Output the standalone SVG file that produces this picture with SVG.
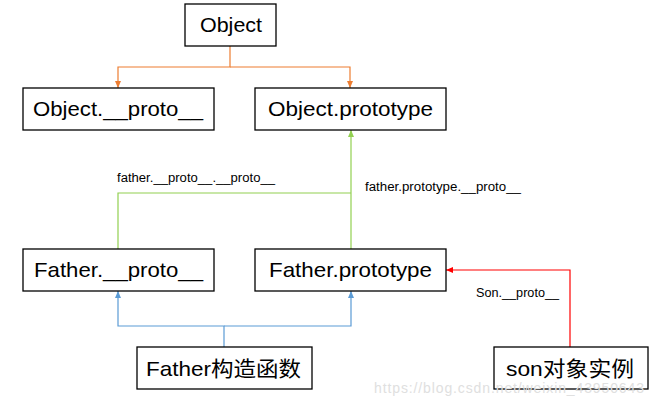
<svg xmlns="http://www.w3.org/2000/svg" width="655" height="407" viewBox="0 0 655 407">
<style>
.box{fill:#fff;stroke:#000;stroke-width:1.3}
.t{font-family:"Liberation Sans","Noto Sans CJK SC",sans-serif;font-size:21px;fill:#000}
.s{font-family:"Liberation Sans",sans-serif;font-size:12.5px;fill:#000}
.c{fill:none;stroke-width:1.2}
</style>
<defs>
<marker id="ao" markerUnits="userSpaceOnUse" markerWidth="8" markerHeight="8" refX="7" refY="4" orient="auto"><path d="M0,1 L7,4 L0,7 Z" fill="#ED7D31"/></marker>
<marker id="ag" markerUnits="userSpaceOnUse" markerWidth="8" markerHeight="8" refX="7" refY="4" orient="auto"><path d="M0,1 L7,4 L0,7 Z" fill="#92D050"/></marker>
<marker id="ab" markerUnits="userSpaceOnUse" markerWidth="8" markerHeight="8" refX="7" refY="4" orient="auto"><path d="M0,1 L7,4 L0,7 Z" fill="#5B9BD5"/></marker>
<marker id="ar" markerUnits="userSpaceOnUse" markerWidth="8" markerHeight="8" refX="7" refY="4" orient="auto"><path d="M0,1 L7,4 L0,7 Z" fill="#FF0000"/></marker>
</defs>
<g id="connectors">
<path class="c" stroke="#ED7D31" d="M230,46 V67 H118 V88" marker-end="url(#ao)"/>
<path class="c" stroke="#ED7D31" d="M230,67 H350 V88" marker-end="url(#ao)"/>
<path class="c" stroke="#92D050" d="M351,249 V130" marker-end="url(#ag)"/>
<path class="c" stroke="#92D050" d="M118,249 V193 H351"/>
<path class="c" stroke="#5B9BD5" d="M224,347 V326 H118 V291" marker-end="url(#ab)"/>
<path class="c" stroke="#5B9BD5" d="M224,326 H351 V291" marker-end="url(#ab)"/>
<path class="c" stroke="#FF0000" d="M570,347 V270 H446" marker-end="url(#ar)"/>
<text class="s" x="117" y="182" textLength="158" lengthAdjust="spacingAndGlyphs">father.__proto__.__proto__</text>
<text class="s" x="365" y="191" textLength="156" lengthAdjust="spacingAndGlyphs">father.prototype.__proto__</text>
<text class="s" x="476" y="297" textLength="83" lengthAdjust="spacingAndGlyphs">Son.__proto__</text>
</g>
<g id="object"><rect class="box" x="185" y="4" width="91" height="42"/><text class="t" x="200" y="32" textLength="62" lengthAdjust="spacingAndGlyphs">Object</text></g>
<g id="object-proto"><rect class="box" x="23" y="88" width="191" height="42"/><text class="t" x="33" y="116" textLength="170" lengthAdjust="spacingAndGlyphs">Object.__proto__</text></g>
<g id="object-prototype"><rect class="box" x="255" y="88" width="191" height="42"/><text class="t" x="268" y="116" textLength="165" lengthAdjust="spacingAndGlyphs">Object.prototype</text></g>
<g id="father-proto"><rect class="box" x="23" y="249" width="191" height="42"/><text class="t" x="34" y="277" textLength="169" lengthAdjust="spacingAndGlyphs">Father.__proto__</text></g>
<g id="father-prototype"><rect class="box" x="255" y="249" width="191" height="42"/><text class="t" x="269" y="277" textLength="163" lengthAdjust="spacingAndGlyphs">Father.prototype</text></g>
<g id="father-ctor"><rect class="box" x="137" y="347" width="175" height="42"/><text class="t" x="146" y="376" textLength="155" lengthAdjust="spacingAndGlyphs">Father构造函数</text></g>
<g id="son"><rect class="box" x="494" y="347" width="154" height="42"/><text class="t" x="506" y="376" textLength="128" lengthAdjust="spacingAndGlyphs">son对象实例</text></g>
<text x="374" y="393" font-family="Liberation Sans,sans-serif" font-size="14" fill="#e0e0e0" textLength="270">https://blog.csdn.net/weixin_43950643</text>
</svg>
